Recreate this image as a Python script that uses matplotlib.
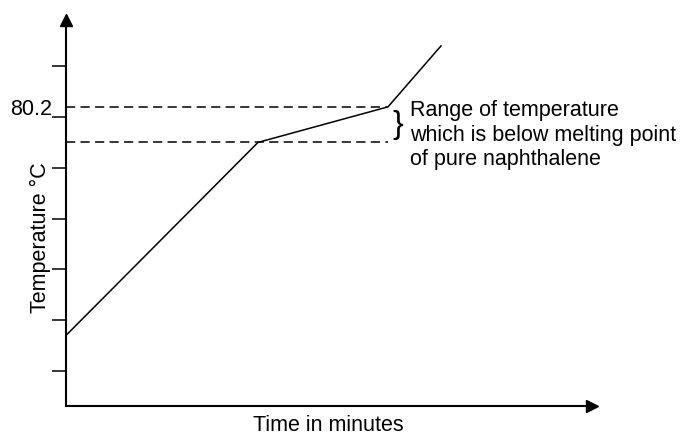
import matplotlib.pyplot as plt

plt.rcParams['font.family'] = ['Liberation Sans', 'DejaVu Sans']

# heating curve (schematic), time in minutes vs temperature
time = [0, 3.84, 6.44, 7.5]
temp = [75.7, 79.5, 80.2, 81.4]

y_ticks = [75, 76, 77, 78, 79, 80, 81]
mark_value = 80.2
range_low = 79.5
note = "Range of temperature\nwhich is below melting point\nof pure naphthalene"

fig = plt.figure(figsize=(6.8, 4.36), dpi=100)
ax = fig.add_axes([66/680, 30/436, 526/680, 386/436])

ax.plot(time, temp, color='black', lw=1.1)

# dashed guide lines for the temperature range
ax.hlines([mark_value, range_low], 0, time[2], colors='black', lw=1.1,
          linestyles=(0, (6, 3.5)))

ax.set_xlim(0, 10.52)
ax.set_ylim(74.31, 81.91)

for s in ['top', 'right']:
    ax.spines[s].set_visible(False)
for s in ['left', 'bottom']:
    ax.spines[s].set_linewidth(1.5)

# arrow heads on the axes
ax.plot(1, 0, '>k', ms=8, transform=ax.transAxes, clip_on=False)
ax.plot(0, 1, '^k', ms=8, transform=ax.transAxes, clip_on=False)

ax.set_xticks([])
ax.set_yticks(y_ticks)
ax.set_yticklabels([])
ax.tick_params(axis='y', which='major', length=10, width=1.1, direction='out')
ax.set_yticks([mark_value], minor=True)
ax.set_yticklabels(['80.2'], minor=True, fontsize=15.5)
ax.tick_params(axis='y', which='minor', length=0, pad=10)

ax.text(6.64, (mark_value + range_low) / 2, '}', fontsize=23, ha='center',
        va='center', fontweight='light')
ax.text(6.88, 79.64, note, fontsize=15.5, ha='left', va='center', linespacing=1.22)

fig.text(40/680, 1 - 238/436, 'Temperature \u00b0C', rotation=90, fontsize=15.5,
         ha='center', va='center')
fig.text(328/680, 1 - 425/436, 'Time in minutes', fontsize=15.5,
         ha='center', va='center')

fig.savefig('out.png', dpi=100)
